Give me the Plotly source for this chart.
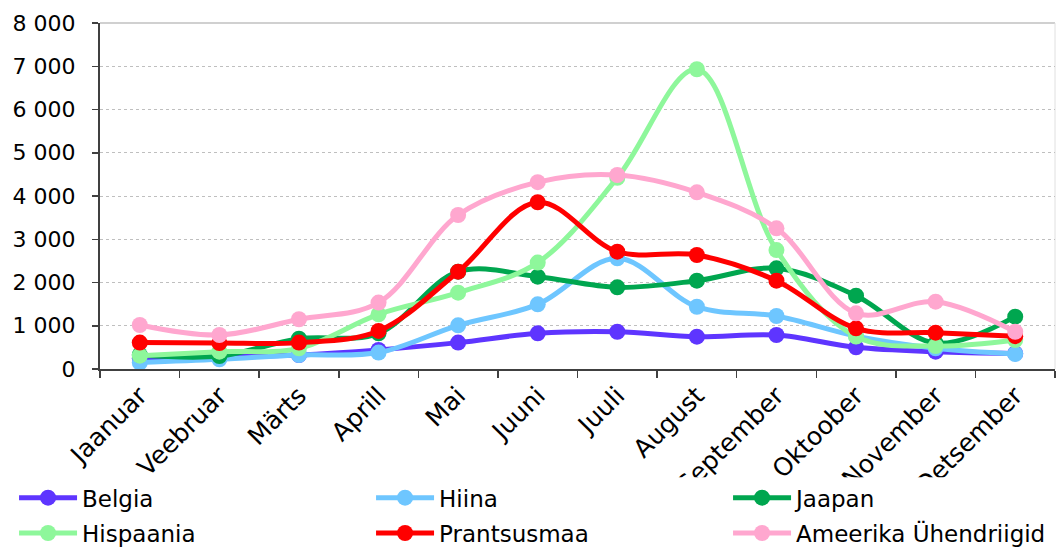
import plotly.graph_objects as go

months = ["Jaanuar", "Veebruar", "Märts", "Aprill", "Mai", "Juuni", "Juuli",
          "August", "September", "Oktoober", "November", "Detsember"]

belgia = [250, 285, 324, 440, 610, 825, 862, 747, 786, 501, 400, 360]
hiina = [150, 224, 324, 380, 1010, 1495, 2560, 1440, 1225, 760, 480, 347]
jaapan = [324, 300, 700, 825, 2250, 2135, 1888, 2042, 2327, 1695, 600, 1210]
hispaania = [308, 400, 478, 1265, 1765, 2460, 4420, 6930, 2750, 750, 530, 670]
prantsusmaa = [610, 600, 610, 880, 2250, 3855, 2713, 2636, 2042, 940, 840, 760]
ameerika = [1017, 786, 1150, 1535, 3560, 4320, 4486, 4085, 3253, 1288, 1556, 862]

series = [
    ("Belgia", belgia, "#5E35FF", "legend", None),
    ("Hiina", hiina, "#6EC6FF", "legend", None),
    ("Jaapan", jaapan, "#00A64F", "legend", 260),
    ("Hispaania", hispaania, "#8EF79B", "legend2", None),
    ("Prantsusmaa", prantsusmaa, "#FF0000", "legend2", None),
    ("Ameerika Ühendriigid", ameerika, "#FFA7CF", "legend2", 260),
]

FONT = "DejaVu Sans"

fig = go.Figure()
for name, vals, color, leg, lw in series:
    kw = {}
    if lw is not None:
        kw["legendwidth"] = lw
    fig.add_trace(go.Scatter(
        x=months, y=vals, name=name, mode="lines+markers",
        line=dict(color=color, width=5, shape="spline", smoothing=1.0),
        marker=dict(color=color, size=16),
        legend=leg, **kw,
    ))

# white band hiding the lower part of the rotated labels (as in the original)
fig.add_shape(type="rect", xref="paper", yref="paper",
              x0=-0.2, x1=1.1, y0=-1.0, y1=-0.313,
              fillcolor="white", line=dict(width=0), layer="above")
# solid top border line
fig.add_shape(type="line", xref="paper", yref="paper", x0=0, x1=1, y0=1, y1=1,
              line=dict(color="#D0D0D0", width=2), layer="below")
# light right border of the chart area
fig.add_shape(type="line", xref="paper", yref="paper", x0=1, x1=1, y0=0, y1=1,
              line=dict(color="#E0E0E0", width=1), layer="below")

legend_common = dict(
    orientation="h", xanchor="left", yanchor="top",
    font=dict(family=FONT, size=23, color="black"),
    entrywidth=284, entrywidthmode="pixels", itemwidth=58,
    bgcolor="rgba(0,0,0,0)", borderwidth=0, traceorder="normal",
)

fig.update_layout(
    width=1056, height=547,
    margin=dict(l=100, r=1, t=23, b=178, autoexpand=False),
    paper_bgcolor="white", plot_bgcolor="white",
    separators=", ",
    font=dict(family=FONT, size=22, color="black"),
    showlegend=True,
    legend=dict(x=-0.090, y=-0.310, **legend_common),
    legend2=dict(x=-0.090, y=-0.412, **legend_common),
    xaxis=dict(
        type="category", tickangle=-45, tickson="boundaries",
        ticks="outside", ticklen=7, tickcolor="#404040", tickwidth=1.5,
        showline=True, linecolor="#404040", linewidth=2,
        showgrid=False, tickfont=dict(family=FONT, size=25, color="black"),
        range=[-0.5, 11.5],
    ),
    yaxis=dict(
        range=[0, 8000], dtick=1000, tickformat=",d",
        ticks="outside", ticklen=6, tickcolor="#404040", tickwidth=1.5,
        showline=True, linecolor="#404040", linewidth=2,
        showgrid=True, gridcolor="#BFBFBF", gridwidth=1, griddash="dot",
        zeroline=False, ticklabelstandoff=12,
        tickfont=dict(family=FONT, size=22, color="black"),
    ),
)

fig.write_html("out.html",
               config={"displayModeBar": False, "staticPlot": True},
               post_script="document.body.style.margin='0';"
                           "document.body.style.overflow='hidden';")
